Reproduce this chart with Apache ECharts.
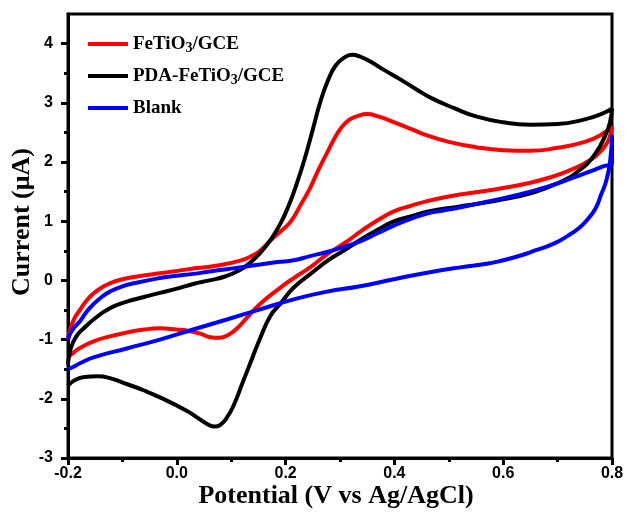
<!DOCTYPE html>
<html>
<head>
<meta charset="utf-8">
<script src="https://cdn.jsdelivr.net/npm/echarts@6/dist/echarts.min.js"></script>
<style>
  html, body { margin: 0; padding: 0; background: #fff; }
  #chart { width: 629px; height: 519px; }
</style>
</head>
<body>
<div id="chart"></div>
<script>
// ---- Data (potential in V, current in µA) ----
const seriesNames = ['FeTiO3/GCE', 'PDA-FeTiO3/GCE', 'Blank'];

const fetioPotential = [-0.2,-0.195,-0.188,-0.178,-0.165,-0.153,-0.138,-0.123,-0.10,-0.07,-0.031,0.0,0.03,0.06,0.092,0.115,0.135,0.153,0.175,0.195,0.21,0.228,0.245,0.26,0.276,0.29,0.30,0.315,0.331,0.35,0.37,0.40,0.43,0.46,0.50,0.55,0.60,0.65,0.70,0.75,0.78,0.8,
  0.795,0.785,0.77,0.75,0.72,0.69,0.65,0.60,0.55,0.52,0.49,0.46,0.43,0.40,0.37,0.34,0.31,0.276,0.245,0.215,0.185,0.153,0.13,0.112,0.095,0.078,0.062,0.043,0.02,0.0,-0.031,-0.06,-0.092,-0.125,-0.153,-0.178,-0.19,-0.2];
const fetioCurrent = [-1.0,-0.80,-0.64,-0.50,-0.33,-0.22,-0.12,-0.05,0.02,0.07,0.12,0.16,0.20,0.23,0.28,0.33,0.40,0.50,0.70,0.86,1.0,1.28,1.56,1.86,2.15,2.40,2.55,2.70,2.77,2.81,2.77,2.67,2.56,2.45,2.34,2.25,2.20,2.19,2.24,2.34,2.46,2.60,
  2.40,2.24,2.10,1.98,1.85,1.75,1.65,1.56,1.49,1.45,1.40,1.34,1.26,1.17,1.02,0.84,0.64,0.44,0.22,0.04,-0.16,-0.40,-0.62,-0.80,-0.92,-0.97,-0.96,-0.90,-0.85,-0.83,-0.81,-0.83,-0.88,-0.95,-1.03,-1.14,-1.22,-1.30];

const pdaPotential = [-0.2,-0.195,-0.185,-0.17,-0.153,-0.123,-0.092,-0.06,-0.031,0.0,0.03,0.06,0.09,0.115,0.135,0.153,0.172,0.19,0.205,0.22,0.235,0.25,0.264,0.278,0.292,0.307,0.322,0.337,0.355,0.38,0.41,0.44,0.47,0.51,0.55,0.60,0.65,0.70,0.75,0.78,0.8,
  0.797,0.79,0.77,0.74,0.70,0.65,0.60,0.55,0.52,0.46,0.43,0.40,0.37,0.34,0.31,0.28,0.25,0.215,0.19,0.172,0.153,0.135,0.12,0.105,0.092,0.08,0.07,0.055,0.035,0.018,-0.03,-0.06,-0.092,-0.12,-0.145,-0.17,-0.19,-0.2];
const pdaCurrent = [-1.42,-1.15,-0.95,-0.80,-0.66,-0.47,-0.36,-0.28,-0.21,-0.14,-0.06,0.0,0.07,0.17,0.30,0.46,0.68,0.95,1.25,1.62,2.05,2.55,3.02,3.38,3.63,3.76,3.81,3.78,3.70,3.56,3.40,3.23,3.07,2.91,2.77,2.67,2.63,2.64,2.72,2.81,2.90,
  2.70,2.50,2.15,1.86,1.64,1.47,1.37,1.29,1.25,1.16,1.08,1.00,0.86,0.70,0.52,0.35,0.14,-0.12,-0.40,-0.60,-0.98,-1.40,-1.75,-2.10,-2.32,-2.44,-2.47,-2.42,-2.30,-2.20,-1.98,-1.86,-1.75,-1.66,-1.62,-1.63,-1.70,-1.78];

const blankPotential = [-0.2,-0.195,-0.187,-0.178,-0.165,-0.153,-0.138,-0.123,-0.10,-0.07,-0.031,0.0,0.03,0.06,0.092,0.125,0.153,0.185,0.215,0.245,0.276,0.305,0.337,0.37,0.40,0.43,0.46,0.49,0.52,0.57,0.63,0.69,0.73,0.76,0.785,0.8,
  0.8,0.797,0.79,0.78,0.77,0.755,0.74,0.72,0.693,0.66,0.632,0.60,0.57,0.521,0.46,0.399,0.337,0.276,0.215,0.153,0.092,0.03,-0.031,-0.092,-0.153,-0.178,-0.19,-0.2];
const blankCurrent = [-1.0,-0.88,-0.78,-0.69,-0.52,-0.40,-0.28,-0.19,-0.10,-0.03,0.04,0.08,0.11,0.15,0.19,0.23,0.27,0.31,0.34,0.41,0.48,0.56,0.66,0.80,0.93,1.04,1.13,1.18,1.23,1.33,1.45,1.61,1.74,1.84,1.93,1.98,
  2.45,2.05,1.70,1.45,1.22,1.03,0.89,0.76,0.62,0.51,0.42,0.34,0.28,0.22,0.13,0.02,-0.10,-0.19,-0.32,-0.49,-0.66,-0.83,-1.00,-1.15,-1.30,-1.40,-1.46,-1.50];

const xTickLabels = [-0.2, 0.0, 0.2, 0.4, 0.6, 0.8];
const yTickLabels = [-3, -2, -1, 0, 1, 2, 3, 4];
const yMinorTicks = [-2.5, -1.5, -0.5, 0.5, 1.5, 2.5, 3.5];

const colors = ['#ff0000', '#000000', '#0000ff'];

function zip(xs, ys) { return xs.map((x, i) => [x, ys[i]]); }

const chart = echarts.init(document.getElementById('chart'), null, { renderer: 'canvas' });
const serifFont = '"Liberation Serif", "Times New Roman", serif';
const sansFont = '"Liberation Sans", Arial, sans-serif';

const option = {
  animation: false,
  backgroundColor: '#ffffff',
  grid: {
    left: 68, right: 17, top: 14, bottom: 61,
    outerBoundsMode: 'none', containLabel: false,
    show: true, borderColor: '#000', borderWidth: 3, backgroundColor: 'transparent'
  },
  legend: {
    orient: 'vertical',
    left: 88, top: 33, padding: 0,
    icon: 'rect',
    itemWidth: 40, itemHeight: 4, itemGap: 10,
    data: seriesNames,
    formatter: name => name.replace('O3', 'O{sub|3}'),
    textStyle: {
      fontFamily: serifFont, fontWeight: 'bold', fontSize: 19, color: '#000', lineHeight: 22,
      rich: {
        sub: { fontFamily: serifFont, fontWeight: 'bold', fontSize: 14, color: '#000', lineHeight: 13, verticalAlign: 'bottom' }
      }
    }
  },
  xAxis: {
    type: 'value',
    min: -0.2, max: 0.8, interval: 0.2,
    name: 'Potential (V vs Ag/AgCl)',
    nameLocation: 'middle', nameGap: 25, nameMoveOverlap: false,
    nameTextStyle: { fontFamily: serifFont, fontWeight: 'bold', fontSize: 26, color: '#000', padding: [0, 8, 0, 0] },
    axisLine: { show: true, onZero: false, lineStyle: { color: '#000', width: 3 } },
    axisTick: { show: true, inside: false, length: 7, lineStyle: { color: '#000', width: 3 } },
    minorTick: { show: true, splitNumber: 2, length: 4, lineStyle: { color: '#000', width: 3 } },
    axisLabel: {
      customValues: xTickLabels,
      margin: 8, fontFamily: sansFont, fontWeight: 'bold', fontSize: 16, color: '#000',
      formatter: v => Number(v).toFixed(1)
    },
    splitLine: { show: false }, minorSplitLine: { show: false }
  },
  yAxis: [
    {
      type: 'value',
      min: -3, max: 4.5, interval: 0.5,
      position: 'left',
      name: 'Current (μA)',
      nameLocation: 'middle', nameGap: 33, nameRotate: 90, nameMoveOverlap: false,
      nameTextStyle: { fontFamily: serifFont, fontWeight: 'bold', fontSize: 26, color: '#000', padding: [0, 0, 0, 28] },
      axisLine: { show: true, onZero: false, lineStyle: { color: '#000', width: 3 } },
      axisTick: { show: true, inside: false, length: 7, customValues: yTickLabels, lineStyle: { color: '#000', width: 3 } },
      axisLabel: {
        customValues: yTickLabels,
        margin: 15, fontFamily: sansFont, fontWeight: 'bold', fontSize: 16, color: '#000',
        formatter: v => String(Math.round(v))
      },
      splitLine: { show: false }
    },
    {
      type: 'value',
      min: -3, max: 4.5, interval: 0.5,
      position: 'left',
      axisLine: { show: false, onZero: false },
      axisTick: { show: true, inside: false, length: 4, customValues: yMinorTicks, lineStyle: { color: '#000', width: 3 } },
      axisLabel: { show: false },
      splitLine: { show: false }
    }
  ],
  series: [
    { name: seriesNames[0], data: zip(fetioPotential, fetioCurrent) },
    { name: seriesNames[1], data: zip(pdaPotential, pdaCurrent) },
    { name: seriesNames[2], data: zip(blankPotential, blankCurrent) }
  ].map((s, i) => ({
    name: s.name,
    type: 'line',
    data: s.data,
    yAxisIndex: 0,
    showSymbol: false,
    smooth: 0.5,
    color: colors[i],
    lineStyle: { color: colors[i], width: 4 },
    z: 3 + i
  }))
};
chart.setOption(option);
</script>
</body>
</html>
